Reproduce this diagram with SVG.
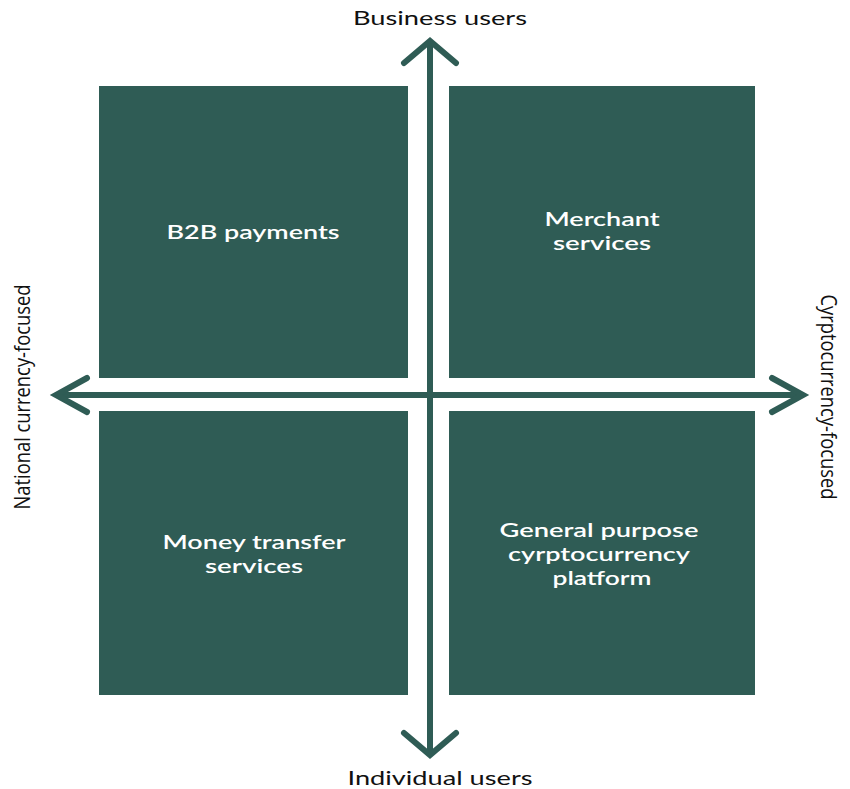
<svg xmlns="http://www.w3.org/2000/svg" width="850" height="789" viewBox="0 0 850 789">
<style>
.box{fill:#2f5c55}
.bt{font-family:Lato,"Open Sans",sans-serif;font-size:20px;fill:#ffffff;text-anchor:middle;font-weight:600}
.ax{font-family:Lato,"Open Sans",sans-serif;font-size:20px;fill:#111111;text-anchor:middle}
.sx{font-family:"Open Sans","Liberation Sans",sans-serif;font-size:21px;fill:#111111;text-anchor:middle}
.ln{stroke:#2f5c55;stroke-width:6;fill:none}
.hd{stroke:#2f5c55;stroke-width:6;fill:none;stroke-linecap:round;stroke-linejoin:miter}
</style>
<rect width="850" height="789" fill="#ffffff"/>
<g id="b2b"><rect class="box" x="99" y="86" width="309" height="292"/><text class="bt" x="253" y="239" textLength="173" lengthAdjust="spacingAndGlyphs">B2B payments</text></g>
<g id="merchant"><rect class="box" x="449" y="86" width="306" height="292"/><text class="bt" x="602" y="226" textLength="115" lengthAdjust="spacingAndGlyphs">Merchant</text><text class="bt" x="602" y="250" textLength="98" lengthAdjust="spacingAndGlyphs">services</text></g>
<g id="money"><rect class="box" x="99" y="411" width="309" height="284"/><text class="bt" x="254" y="549" textLength="183" lengthAdjust="spacingAndGlyphs">Money transfer</text><text class="bt" x="254" y="573" textLength="98" lengthAdjust="spacingAndGlyphs">services</text></g>
<g id="general"><rect class="box" x="449" y="411" width="306" height="284"/><text class="bt" x="599" y="537" textLength="199" lengthAdjust="spacingAndGlyphs">General purpose</text><text class="bt" x="599" y="561" textLength="182" lengthAdjust="spacingAndGlyphs">cyrptocurrency</text><text class="bt" x="602" y="585" textLength="99" lengthAdjust="spacingAndGlyphs">platform</text></g>
<g id="connectors">
<line class="ln" x1="430" y1="44" x2="430" y2="752"/>
<line class="ln" x1="58" y1="395" x2="800" y2="395"/>
<polyline class="hd" points="404,63 430,41 456,63"/>
<polyline class="hd" points="404,733 430,755 456,733"/>
<polyline class="hd" points="87,378 56,395 87,412"/>
<polyline class="hd" points="772,378 803,395 772,412"/>
</g>
<g id="labels">
<text class="ax" x="440" y="25" textLength="174" lengthAdjust="spacingAndGlyphs">Business users</text>
<text class="ax" x="440" y="785" textLength="185" lengthAdjust="spacingAndGlyphs">Individual users</text>
<text class="sx" transform="translate(30,397) rotate(-90)" x="0" y="0" textLength="225" lengthAdjust="spacingAndGlyphs">National currency-focused</text>
<text class="sx" transform="translate(821,397) rotate(90)" x="0" y="0" textLength="205" lengthAdjust="spacingAndGlyphs">Cyrptocurrency-focused</text>
</g>
</svg>
